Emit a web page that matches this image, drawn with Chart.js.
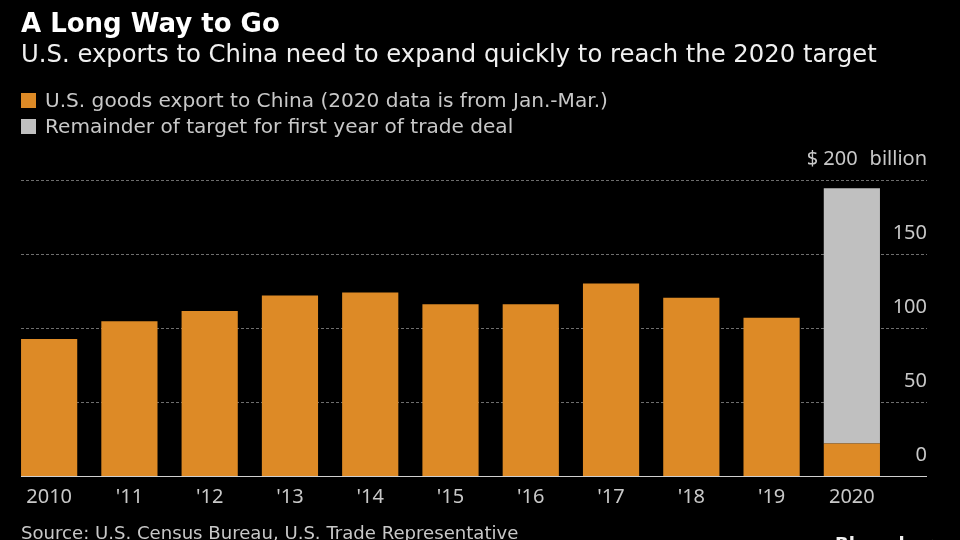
<!DOCTYPE html>
<html>
<head>
<meta charset="utf-8">
<script src="https://cdn.jsdelivr.net/npm/chart.js@4"></script>
<style>
  html, body { margin: 0; width: 960px; height: 540px; overflow: hidden; background: #000; font-family: "DejaVu Sans", sans-serif; }
  #wrap { position: relative; width: 960px; height: 540px; overflow: hidden; }
  canvas { position: absolute; left: 0; top: 0; }
  .txt { position: absolute; white-space: nowrap; }
  #title { left: 21px; top: 7px; font-size: 26px; line-height: 32px; font-weight: 700; color: #fff; }
  #subtitle { left: 21px; top: 38px; font-size: 24.3px; line-height: 32px; color: #f0f0f0; }
  .legend { left: 21px; font-size: 20.1px; line-height: 26px; color: #c8c8c8; }
  .legend i { display: inline-block; width: 15px; height: 15px; margin-right: 9px; vertical-align: -1px; }
  #source { left: 21px; top: 521px; font-size: 18.1px; line-height: 24px; color: #c8c8c8; }
  #brand { left: 835px; top: 530px; font-size: 18px; line-height: 28px; font-weight: 700; color: #f0f0f0; }
</style>
</head>
<body>
<div id="wrap">
  <canvas id="chart" width="960" height="540"></canvas>
  <div class="txt" id="title">A Long Way to Go</div>
  <div class="txt" id="subtitle">U.S. exports to China need to expand quickly to reach the 2020 target</div>
  <div class="txt legend" style="top:87px"><i style="background:#dd8a26"></i>U.S. goods export to China (2020 data is from Jan.-Mar.)</div>
  <div class="txt legend" style="top:113px"><i style="background:#c0c0c0"></i>Remainder of target for first year of trade deal</div>
  <div class="txt" id="source">Source: U.S. Census Bureau, U.S. Trade Representative</div>
  <div class="txt" id="brand">Bloomberg</div>
</div>
<script>
const years = ['2010', "'11", "'12", "'13", "'14", "'15", "'16", "'17", "'18", "'19", '2020'];
const exportsToChina = [92.5, 104.5, 111.5, 122, 124, 116, 116, 130, 120.5, 107, 22];
const remainder = [0, 0, 0, 0, 0, 0, 0, 0, 0, 0, 172.5];
const yTicks = [0, 50, 100, 150, 200];

// dotted gridlines and the base line run wider than the bars, so draw them here
const wideLines = {
    id: 'wideLines',
    beforeDatasetsDraw(chart) {
        const ctx = chart.ctx;
        const y = chart.scales.y;
        ctx.save();
        ctx.lineWidth = 1;
        yTicks.forEach(tick => {
            const py = Math.round(y.getPixelForValue(tick)) + 0.5;
            ctx.beginPath();
            ctx.setLineDash(tick === 0 ? [] : [3, 2]);
            ctx.strokeStyle = tick === 0 ? '#d0d0d0' : '#6e6e6e';
            ctx.moveTo(21, py);
            ctx.lineTo(927, py);
            ctx.stroke();
        });
        ctx.restore();
    }
};

new Chart(document.getElementById('chart'), {
    type: 'bar',
    plugins: [wideLines],
    data: {
        labels: years,
        datasets: [
            { label: 'U.S. goods export to China', data: exportsToChina, backgroundColor: '#dd8a26' },
            { label: 'Remainder of target', data: remainder, backgroundColor: '#c0c0c0' }
        ]
    },
    options: {
        responsive: false,
        animation: false,
        barPercentage: 0.7,
        categoryPercentage: 1,
        layout: { padding: { left: 9, right: 33, top: 180, bottom: 0 } },
        plugins: { legend: { display: false }, title: { display: false }, tooltip: { enabled: false } },
        scales: {
            x: {
                stacked: true,
                grid: { display: false },
                border: { display: false },
                ticks: { color: '#c8c8c8', font: { family: 'Noto Sans', size: 20 }, padding: 1, maxRotation: 0, autoSkip: false },
                afterFit(scale) { scale.height = 64; }
            },
            y: {
                position: 'right',
                stacked: true,
                min: 0,
                max: 200,
                grid: { display: false, drawTicks: false },
                border: { display: false },
                afterBuildTicks(scale) { scale.ticks = yTicks.map(value => ({ value })); },
                ticks: {
                    color: '#c8c8c8',
                    font: { family: 'Noto Sans', size: 20 },
                    mirror: true,
                    padding: 35,
                    labelOffset: -20.5,
                    callback: value => value === 200 ? '$ 200\u2002\u200abillion' : String(value)
                },
                afterFit(scale) { scale.width = 35; }
            }
        }
    }
});
</script>
</body>
</html>
